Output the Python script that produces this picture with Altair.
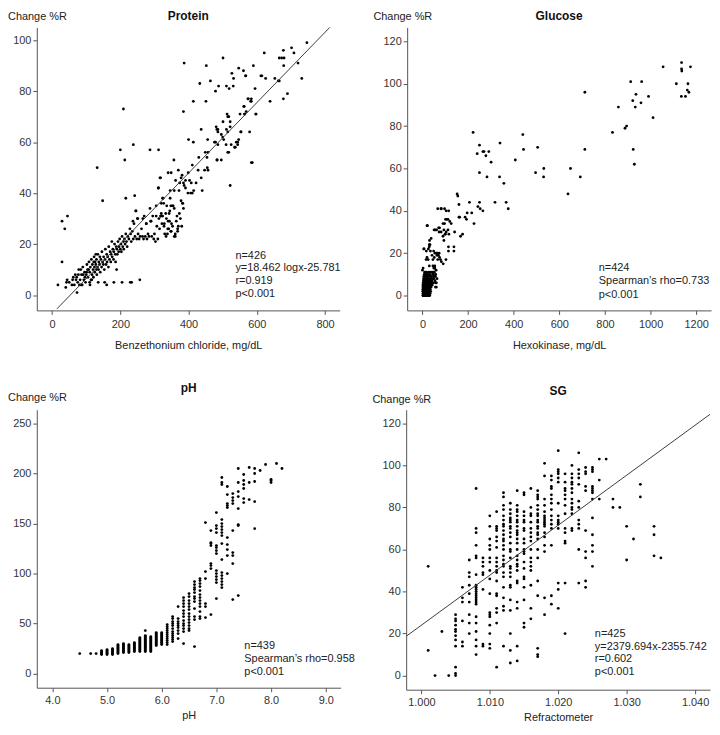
import altair as alt
import pandas as pd

FONT = "Liberation Sans"

# ---------------- Protein ----------------
protein_points = [
    (17,4),(29,13),(29,29),(37,26),(45,31),(40,3),(42,5),(44,6),(73,1),(132,50),(148,37),(209,73),(200,57),(213,53),
    (216,38),(238,59),(242,39),(287,57),(312,57),(312,42),(318,46),(205,5),(229,5),(233,5),(257,6),(181,5),(154,5),
    (160,4),(189,10),(135,5),(110,5),(85,4),(58,4),(50,5),(62,7),(70,6),(77,8),(80,4),(84,10),(88,4),(91,8),(96,7),
    (101,9),(104,10),(111,4),(116,6),(122,13),(128,16),(130,10),
    (60,6),(65,4),(68,8),(72,7),(75,5),(78,10),(82,6),(86,8),(90,11),(93,6),(95,9),(98,5),(100,8),(102,12),(105,7),
    (107,10),(108,13),(110,9),(112,11),(114,6),(115,14),(117,8),(118,12),(120,10),(121,7),(123,15),(124,11),(125,9),
    (126,13),(128,12),(130,14),(131,8),(133,11),(134,16),(136,10),(137,13),(139,12),(140,15),(141,9),(143,14),(145,11),
    (146,17),(148,13),(150,12),(151,15),(153,10),(155,14),(156,18),(158,12),(160,16),(161,13),(163,15),(165,11),(166,19),
    (168,14),(170,17),(172,13),(173,16),(175,21),(176,15),(178,18),(180,14),(181,17),(183,20),(185,16),(186,13),(188,19),
    (190,18),(191,16),(193,21),(195,17),(196,19),(198,22),(200,18),(202,20),(203,17),(205,23),(207,19),(209,21),(210,18),
    (212,22),(214,20),(216,24),(218,21),(220,19),(222,23),(225,22),(228,26),(230,24),(232,21),(235,25),(238,22),(240,28),
    (243,23),(245,33),(248,22),(250,30),(252,24),(255,22),(258,23),(262,26),(265,23),(268,22),(270,31),(273,23),(276,28),
    (278,22),(281,24),(284,23),(287,34),(289,29),(292,23),(295,31),(298,22),(300,24),(303,21),(305,31),(307,27),(310,22),
    (313,30),(315,26),(318,31),(320,36),(322,28),(325,38),(328,27),(330,24),(333,32),(335,30),(338,24),(340,29),(342,26),
    (345,33),(348,25),(350,28),(353,27),(355,35),(358,23),(361,24),(364,29),(366,31),(368,26),(370,27),(373,32),(376,30),
    (378,37),(380,27),(383,36),(385,34),(349,48),(357,53),(340,48),(370,49),(316,46),(311,42),(346,41),(358,41),(372,41),
    (374,44),(362,45),(385,44),(378,46),(387,43),(391,42),(398,40),(406,40),(411,40),(403,45),(408,44),(415,41),(422,44),
    (440,41),(381,47),(391,45),(399,48),(411,51),(428,49),(430,54),(437,46),(447,49),(449,56),(454,54),(455,50),(456,61),
    (457,56),(457,49),(437,65),(479,60),(486,59),(484,53),(496,53),(481,66),(483,65),(486,64),(496,63),(501,68),(503,61),
    (511,65),(515,64),(515,56),(522,68),(522,66),(525,59),(535,58),(540,60),(544,60),(553,64),(579,64),(584,52),(522,43),
    (513,71),(518,70),(551,71),(564,71),(563,74),(574,77),(584,77),(584,76),(597,71),(346,38),(327,36),(336,35),(348,35),
    (358,34),(382,36),(320,32),(343,32),(352,35),(305,35),(324,38),(339,26),(349,25),(361,23),(368,25),(334,23),
    (329,28),(344,29),(237,29),(246,33),(251,30),(266,30),(276,28),(290,29),(319,31),(324,31),
    (387,91),(385,72),(414,76),(400,61),(414,60),(433,83),(451,76),(452,90),(464,84),(479,80),(488,82),(501,93),(511,82),
    (519,81),(527,87),(532,85),(531,82),(547,89),(561,88),(567,86),(568,86),(590,90),(595,81),(622,95),(612,86),(615,86),
    (626,85),(653,85),(663,84),(666,93),(673,93),(680,93),(678,96),(679,90),(678,77),(690,79),(702,97),(709,95),(721,91),
    (732,85),(747,99),(666,84),(639,76),(510,59),(518,56),(587,52),(515,70),(500,62),(547,61),(554,64),(562,74),(565,71),
    (569,72),(575,77),(582,76),(598,71),(537,58),(544,59),(486,65),(476,60),(483,53),
]
protein_line_x = [14, 814]
protein_line_y = [-5.4, 105.0]

# ---------------- Glucose ----------------
glucose_points = [
    (1055,108),(1136,110),(1136,107),(1137,106),(1175,108),(1113,100),(1164,100),(1161,97),(1168,96),(1135,94),(1153,94),
    (913,101),(961,101),(936,95),(922,92),(958,91),(991,94),(859,89),(933,89),(1011,84),(895,80),(888,79),(833,77),
    (924,69),(929,62),(712,96),(712,69),(649,60),(692,56),(638,48),(505,70),(532,60),(531,56),(496,58),(440,76),(443,69),
    (407,64),(340,72),(338,56),(357,53),(367,44),(376,41),(318,44),(222,77),(250,71),(240,67),(265,68),(270,68),(291,68),
    (278,66),(301,63),(250,58),(283,56),(206,44),(250,44),(243,42),(253,41),(265,40),(216,39),(226,34),(152,48),(155,47),
    (160,43),(163,37),(160,37),(167,28),(176,29),(187,37),(193,36),(196,39),(120,35),(141,30),(138,23),(138,21),(83,41),
    (97,41),(115,40),(126,34),(101,36),(106,36),(112,36),(90,34),(97,34),(94,31),(71,32),(75,32),(73,30),(104,30),(112,31),
    (116,29),(90,28),(94,26),(99,29),(51,31),(56,31),(62,31),(22,33),(73,20),(66,20),(70,19),(64,19),(83,16),(91,15),
    (103,17),(7,22),(0,12),(3,13),(25,17),(30,14),(35,21),(33,24),(38,27),(42,19),(46,17),(51,13),(54,14),(57,9),(61,6),
    (57,4),(6,22),(20,33),(17,21),(26,22),(30,23),(31,26),(30,24),(20,18),(16,17),(49,21),(55,20),(61,20),(52,18),
    (67,17),(79,17),(46,14),(50,13),(54,13),(45,11),(48,10),(50,8),(64,8),(75,18),(67,41),(81,41),(104,40),(82,30),(100,29),
    (114,23),(114,21),
    (2,0),(2,1),(2,2),(2,3),(2,4),(2,5),(3,0),(3,2),(3,6),(4,1),(4,3),(4,5),(4,7),(5,0),(5,1),(5,2),(5,4),(5,8),(6,0),(6,3),
    (6,5),(6,9),(7,1),(7,2),(7,4),(7,6),(8,0),(8,3),(8,5),(8,10),(9,1),(9,2),(9,7),(10,0),(10,3),(10,4),(10,6),(10,11),
    (11,1),(11,5),(11,8),(12,0),(12,2),(12,3),(12,9),(13,1),(13,4),(13,6),(14,0),(14,2),(14,5),(14,7),(15,1),(15,3),(15,10),
    (16,0),(16,4),(16,6),(17,2),(17,5),(17,8),(18,0),(18,1),(18,3),(18,11),(19,4),(19,7),(20,0),(20,2),(20,5),(20,9),(21,1),
    (21,3),(21,6),(22,0),(22,4),(22,8),(23,2),(23,5),(23,10),(24,0),(24,1),(24,3),(24,7),(25,2),(25,4),(25,6),(26,0),(26,9),
    (27,1),(27,3),(27,5),(28,2),(28,7),(28,11),(29,0),(29,4),(30,1),(30,3),(30,6),(30,8),(31,5),(32,0),(32,2),(32,10),(33,4),
    (33,7),(34,1),(34,3),(35,6),(35,9),(36,2),(36,5),(37,8),(38,4),(38,11),(40,6),(40,9),(42,7),(43,5),(45,10),(46,8),(48,6),
    (50,9),(52,11),(55,7),(58,10),(60,12),(57,6),(61,4),
]

# ---------------- pH ----------------
ph_levels = [4.5, 4.7, 4.8, 4.9, 5.0, 5.1, 5.2, 5.3, 5.4, 5.5, 5.6, 5.7, 5.8, 5.9, 6.0, 6.1, 6.2, 6.3, 6.4, 6.5,
             6.6, 6.7, 6.8, 6.9, 7.0, 7.1, 7.2, 7.3, 7.4, 7.5, 7.6, 7.7, 7.8, 7.9, 8.0, 8.1, 8.2]
ph_values = [
    [20], [20], [20],
    [19, 20, 21, 22, 23],
    [19, 20, 21, 22, 23, 24],
    [19, 20, 21, 22, 23, 24, 25],
    [20, 21, 22, 23, 24, 25, 26, 27, 28, 29],
    [21, 22, 23, 24, 25, 26, 27, 28, 29, 30],
    [21, 22, 23, 24, 25, 26, 27, 28, 29],
    [22, 23, 24, 25, 26, 27, 28, 29, 30, 31],
    [22, 23, 24, 25, 26, 27, 28, 29, 30, 31, 32, 33, 34, 35, 36],
    [22, 23, 24, 25, 26, 27, 28, 29, 30, 31, 32, 33, 34, 35, 36, 37, 38, 43],
    [22, 23, 24, 25, 26, 27, 28, 29, 30, 31, 32, 33, 34, 35, 36, 37],
    [28, 29, 30, 31, 32, 33, 34, 35, 36, 37, 38, 39, 40, 41],
    [29, 30, 31, 32, 33, 34, 35, 36, 37, 38, 39, 40, 41],
    [29, 31, 33, 35, 37, 39, 41, 43, 45, 47, 49],
    [32, 34, 36, 38, 40, 42, 45, 48, 50, 52, 55, 57],
    [35, 40, 43, 46, 48, 50, 52, 55, 67],
    [30, 42, 45, 48, 50, 53, 57, 60, 63, 67, 70, 73, 76],
    [43, 45, 48, 51, 54, 57, 60, 64, 67, 70, 73, 77, 80],
    [27, 54, 57, 65, 72, 75, 77, 81, 84, 86, 89, 92],
    [55, 57, 62, 67, 70, 73, 76, 79, 83, 87, 90, 93, 95],
    [56, 67, 70, 95, 102, 151],
    [59, 105, 108, 110, 128, 130, 131, 143],
    [75, 91, 94, 97, 100, 103, 120, 123, 126, 128, 141, 145, 148, 161],
    [86, 89, 92, 95, 98, 101, 114, 130, 138, 141, 144, 147, 150, 154, 189, 191, 196],
    [100, 118, 124, 129, 136, 166, 168, 170, 179, 187],
    [74, 110, 118, 121, 143, 170, 173, 176, 180],
    [78, 148, 149, 165, 177, 182, 191, 205],
    [171, 175, 185, 189, 193, 199],
    [174, 191, 206],
    [145, 172, 192, 200, 205],
    [203], [209], [191, 193, 194], [210], [205],
]

# ---------------- SG ----------------
sg_levels = [1.001, 1.002, 1.003, 1.004, 1.005, 1.006, 1.007, 1.008, 1.009, 1.010, 1.011, 1.012, 1.013, 1.014,
             1.015, 1.016, 1.017, 1.018, 1.019, 1.020, 1.021, 1.022, 1.023, 1.024, 1.025, 1.026, 1.027, 1.028,
             1.029, 1.030, 1.031, 1.032, 1.034, 1.035]
sg_values = [
    [52, 12], [0], [21], [0],
    [29, 27, 26, 24, 22, 21, 19, 17, 14, 4, 1, 0],
    [42, 37, 35, 26, 16, 14],
    [55, 49, 47, 43, 39, 35, 29, 25, 20],
    [89, 70, 68, 62, 57, 56, 48, 43, 42, 41, 40, 39, 38, 37, 36, 35, 34, 28, 25, 21, 17, 14, 10],
    [56, 54, 52, 49, 48, 41, 15, 14],
    [76, 71, 65, 62, 60, 56, 54, 50, 46, 39, 30, 29, 28, 24, 20, 15, 13],
    [78, 71, 70, 69, 66, 64, 61, 56, 54, 52, 50, 49, 45, 39, 38, 32, 30, 25, 4],
    [87, 85, 81, 79, 76, 74, 72, 71, 69, 67, 65, 64, 62, 60, 57, 55, 53, 52, 49, 47, 42, 37, 33, 31, 14],
    [82, 79, 77, 75, 74, 73, 71, 70, 68, 66, 63, 60, 59, 56, 52, 51, 49, 47, 43, 42, 36, 31, 20, 12, 6],
    [88, 81, 79, 78, 76, 74, 73, 71, 69, 68, 67, 65, 63, 60, 57, 55, 53, 52, 50, 45, 44, 35, 32, 14, 7],
    [87, 86, 78, 76, 74, 73, 70, 69, 65, 63, 60, 59, 58, 54, 51, 47, 46, 42, 36, 25, 23],
    [89, 80, 77, 76, 73, 70, 68, 66, 64, 60, 56, 54, 52, 50, 43, 32, 27],
    [88, 86, 85, 84, 81, 79, 77, 76, 74, 73, 71, 70, 68, 67, 65, 60, 56, 45, 38, 13, 10, 9],
    [101, 95, 84, 81, 78, 76, 75, 74, 73, 72, 71, 68, 66, 62, 59, 37, 29],
    [95, 93, 90, 89, 86, 84, 82, 79, 76, 74, 72, 70, 62, 38, 34],
    [107, 98, 97, 96, 94, 92, 82, 76, 74, 73, 72, 70, 44, 41, 32],
    [96, 92, 89, 88, 86, 84, 81, 77, 70, 68, 64, 63, 44, 20],
    [100, 96, 94, 92, 91, 89, 87, 84, 82, 80, 79, 77, 70, 69],
    [106, 98, 96, 94, 91, 83, 80, 74, 72, 70, 60, 44],
    [99, 97, 96, 90, 88, 69, 59, 56, 45, 42],
    [99, 98, 97, 90, 89, 88, 87, 84, 75, 67, 62, 59, 52],
    [103, 93, 84], [103], [84, 80], [80], [71, 55], [65], [91, 85], [71, 67, 57], [56],
]
sg_line_x = [0.99778, 1.04218]
sg_line_y = [18.7, 124.3]

# ---------------- annotations ----------------
protein_note = ["n=426", "y=18.462 logx-25.781", "r=0.919", "p<0.001"]
glucose_note = ["n=424", "Spearman\u2019s rho=0.733", "p<0.001"]
ph_note = ["n=439", "Spearman\u2019s rho=0.958", "p<0.001"]
sg_note = ["n=425", "y=2379.694x-2355.742", "r=0.602", "p<0.001"]


def pairs_df(pairs):
    return pd.DataFrame({"x": [p[0] for p in pairs], "y": [p[1] for p in pairs]})


def levels_df(levels, values):
    xs, ys = [], []
    for lv, vals in zip(levels, values):
        for v in vals:
            xs.append(lv)
            ys.append(v)
    return pd.DataFrame({"x": xs, "y": ys})


def panel(df, xdom, ydom, xticks, yticks, xfmt, xtitle, w, h, title, title_y,
          yt_x, yt_y, note, note_x, note_y, note_lh, title_pad, label_pad, line_df=None):
    xs = alt.Scale(domain=xdom, nice=False, zero=False)
    ys = alt.Scale(domain=ydom, nice=False, zero=False)
    xenc = alt.X("x:Q", scale=xs, axis=alt.Axis(values=xticks, format=xfmt, title=xtitle,
                                               titlePadding=title_pad, labelPadding=label_pad))
    yenc = alt.Y("y:Q", scale=ys, axis=alt.Axis(values=yticks, title=None))
    pts = alt.Chart(df).mark_circle(size=8, color="black", opacity=1).encode(x=xenc, y=yenc)
    layers = [pts]
    if line_df is not None:
        layers.append(
            alt.Chart(line_df).mark_line(color="#3c3c3c", strokeWidth=1).encode(
                x=alt.X("x:Q", scale=xs), y=alt.Y("y:Q", scale=ys))
        )
    one = pd.DataFrame({"k": [0]})
    note_t = alt.Chart(one).mark_text(align="left", baseline="alphabetic", fontSize=11, font=FONT,
                                      lineHeight=note_lh, color="#222").encode(
        x=alt.value(note_x), y=alt.value(note_y), text=alt.value(note))
    ttl = alt.Chart(one).mark_text(align="center", baseline="alphabetic", fontSize=12, font=FONT,
                                   fontWeight="bold", color="#111").encode(
        x=alt.value(w / 2), y=alt.value(title_y), text=alt.value(title))
    ytl = alt.Chart(one).mark_text(align="left", baseline="alphabetic", fontSize=11, font=FONT,
                                   color="#222").encode(
        x=alt.value(yt_x), y=alt.value(yt_y), text=alt.value("Change %R"))
    return alt.layer(*layers, note_t, ttl, ytl).properties(width=w, height=h)


p1 = panel(pairs_df(protein_points), [-45, 843], [-6, 105], [0, 200, 400, 600, 800], [0, 20, 40, 60, 80, 100],
           "d", "Benzethonium chloride, mg/dL", 305, 285, "Protein", -7, -29, -7,
           protein_note, 200, 233, 12.8, 10, 4,
           pd.DataFrame({"x": protein_line_x, "y": protein_line_y}))
p2 = panel(pairs_df(glucose_points), [-67, 1265], [-7, 126.6], [0, 200, 400, 600, 800, 1000, 1200],
           [0, 20, 40, 60, 80, 100, 120], "d", "Hexokinase, mg/dL", 306, 285, "Glucose", -7, -34, -7,
           glucose_note, 193, 245, 13.8, 10, 4)
p3 = panel(levels_df(ph_levels, ph_values), [3.715, 9.273], [-14.1, 263.8], [4, 5, 6, 7, 8, 9],
           [0, 50, 100, 150, 200, 250], ".1f", "pH", 306, 280, "pH", -17.4, -29, -8.4,
           ph_note, 209, 241, 13.3, 4, 3)
p4 = panel(levels_df(sg_levels, sg_values), [0.99778, 1.04218], [-6.7, 126.5],
           [1.00, 1.01, 1.02, 1.03, 1.04], [0, 20, 40, 60, 80, 100, 120], ".3f", "Refractometer",
           306, 282, "SG", -15, -34, -6.7, sg_note, 190, 229, 12.7, 4, 3,
           pd.DataFrame({"x": sg_line_x, "y": sg_line_y}))

row1 = alt.hconcat(p1, p2, spacing=32)
row2 = alt.hconcat(p3, p4, spacing=17)
chart = alt.vconcat(row1, row2, spacing=32).properties(
    padding={"left": 0, "top": 0, "right": 0, "bottom": 0}
).configure_view(stroke=None).configure_axis(
    grid=False, domainColor="#555", tickColor="#555", labelColor="#333", titleColor="#222",
    labelFont=FONT, titleFont=FONT, labelFontSize=11, titleFontSize=11, titleFontWeight="normal",
    tickSize=4, domainWidth=1, tickWidth=1
)

chart.save("out.html", embed_options={"renderer": "svg", "actions": False})
